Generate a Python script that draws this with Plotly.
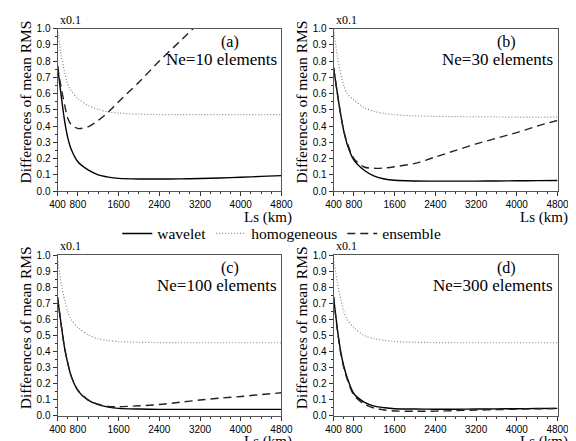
import plotly.graph_objects as go
from plotly.subplots import make_subplots

# Ls (km) sample positions, shared by all panels
ls = [400, 475, 540, 600, 665, 800, 1000, 1200, 1400, 1600, 2000, 2400, 2800, 3200, 3600, 4000, 4400, 4800]

# panel (a) Ne=10
wavelet_a = [0.77, 0.58, 0.43, 0.33, 0.26, 0.18, 0.13, 0.10, 0.086, 0.078, 0.074, 0.074, 0.075, 0.077, 0.080, 0.085, 0.090, 0.095]
homog_a = [1.0, 0.83, 0.73, 0.66, 0.62, 0.57, 0.527, 0.503, 0.487, 0.48, 0.473, 0.471, 0.47, 0.47, 0.47, 0.47, 0.47, 0.47]
ensemble_a = [0.77, 0.63, 0.53, 0.45, 0.41, 0.385, 0.395, 0.435, 0.487, 0.55, 0.67, 0.80, 0.92, 1.04, None, None, None, None]

# panel (b) Ne=30
wavelet_b = [0.76, 0.60, 0.47, 0.37, 0.29, 0.19, 0.128, 0.092, 0.074, 0.066, 0.062, 0.061, 0.061, 0.061, 0.062, 0.063, 0.064, 0.065]
homog_b = [1.0, 0.83, 0.72, 0.65, 0.60, 0.56, 0.515, 0.49, 0.477, 0.47, 0.463, 0.46, 0.458, 0.457, 0.456, 0.455, 0.455, 0.455]
ensemble_b = [0.76, 0.60, 0.47, 0.37, 0.30, 0.20, 0.148, 0.14, 0.142, 0.15, 0.17, 0.21, 0.25, 0.29, 0.325, 0.36, 0.40, 0.435]

# panel (c) Ne=100
wavelet_c = [0.74, 0.56, 0.42, 0.33, 0.25, 0.157, 0.097, 0.069, 0.054, 0.046, 0.042, 0.04, 0.04, 0.04, 0.04, 0.04, 0.04, 0.04]
homog_c = [0.98, 0.82, 0.72, 0.65, 0.60, 0.55, 0.504, 0.48, 0.468, 0.462, 0.458, 0.456, 0.455, 0.455, 0.455, 0.455, 0.455, 0.455]
ensemble_c = [0.74, 0.56, 0.42, 0.33, 0.25, 0.16, 0.10, 0.072, 0.058, 0.056, 0.062, 0.07, 0.084, 0.098, 0.11, 0.12, 0.132, 0.143]

# panel (d) Ne=300
wavelet_d = [0.74, 0.54, 0.40, 0.31, 0.24, 0.137, 0.085, 0.06, 0.05, 0.044, 0.042, 0.041, 0.041, 0.042, 0.043, 0.044, 0.045, 0.046]
homog_d = [0.98, 0.83, 0.73, 0.65, 0.60, 0.55, 0.50, 0.48, 0.47, 0.462, 0.458, 0.456, 0.455, 0.455, 0.455, 0.455, 0.455, 0.455]
ensemble_d = [0.74, 0.53, 0.39, 0.30, 0.23, 0.127, 0.073, 0.048, 0.036, 0.03, 0.028, 0.029, 0.032, 0.035, 0.038, 0.041, 0.043, 0.045]

panel_tags = ['(a)', '(b)', '(c)', '(d)']
panel_ne = ['Ne=10 elements', 'Ne=30 elements', 'Ne=100 elements', 'Ne=300 elements']
x_ticks = [400, 800, 1600, 2400, 3200, 4000, 4800]

SERIF = 'Liberation Serif'
SANS = 'Liberation Sans'

panels = [
    (1, 1, wavelet_a, homog_a, ensemble_a),
    (1, 2, wavelet_b, homog_b, ensemble_b),
    (2, 1, wavelet_c, homog_c, ensemble_c),
    (2, 2, wavelet_d, homog_d, ensemble_d),
]

fig = make_subplots(rows=2, cols=2)

for i, (row, col, wav, hom, ens) in enumerate(panels):
    first = i == 0
    fig.add_trace(go.Scatter(x=ls, y=wav, name='wavelet', mode='lines',
                             line=dict(color='black', width=1.4, shape='spline', smoothing=0.8),
                             showlegend=first), row=row, col=col)
    fig.add_trace(go.Scatter(x=ls, y=hom, name='homogeneous', mode='lines',
                             line=dict(color='#888888', width=1.2, dash='1px,2px',
                                       shape='spline', smoothing=0.8),
                             showlegend=first), row=row, col=col)
    fig.add_trace(go.Scatter(x=ls, y=ens, name='ensemble', mode='lines',
                             line=dict(color='#222222', width=1.4, dash='8px,5px',
                                       shape='spline', smoothing=0.8),
                             showlegend=first), row=row, col=col)

W, H = 576, 441
x_dom = [[43 / W, 275 / W], [329 / W, 561 / W]]
y_dom = [[1 - 182 / H, 1 - 15 / H], [1 - 413 / H, 1 - 248 / H]]

for i, (row, col, _, _, _) in enumerate(panels):
    n = '' if i == 0 else str(i + 1)
    fig.layout['xaxis' + n].update(
        domain=x_dom[col - 1], range=[400, 4800],
        tickmode='array', tickvals=x_ticks, ticktext=[str(v) for v in x_ticks],
        ticks='outside', ticklen=4, tickcolor='#333333',
        showline=True, linecolor='#555555', linewidth=1, mirror=True,
        showgrid=False, zeroline=False,
        tickfont=dict(family=SANS, size=10, color='black'),
        minor=dict(tickmode='linear', tick0=400, dtick=200, ticks='outside',
                   ticklen=2, tickcolor='#333333'))
    fig.layout['yaxis' + n].update(
        domain=y_dom[row - 1], range=[0, 1.0],
        tick0=0, dtick=0.1, tickformat='.1f',
        ticks='outside', ticklen=4, tickcolor='#333333',
        showline=True, linecolor='#555555', linewidth=1, mirror=True,
        showgrid=False, zeroline=False,
        tickfont=dict(family=SANS, size=10, color='black'),
        minor=dict(tick0=0, dtick=0.05, ticks='outside', ticklen=2, tickcolor='#333333'))

    xd = ('x' + n) + ' domain'
    yd = ('y' + n) + ' domain'
    fig.add_annotation(text='x0.1', xref=xd, yref=yd, x=0, y=1, xanchor='left', yanchor='bottom',
                       showarrow=False, font=dict(family=SERIF, size=12, color='black'))
    fig.add_annotation(text=panel_tags[i], xref=xd, yref=yd, x=0.77, y=0.92, xanchor='center',
                       yanchor='middle', showarrow=False, font=dict(family=SERIF, size=16, color='black'))
    fig.add_annotation(text=panel_ne[i], xref=xd, yref=yd, x=0.987, y=0.81, xanchor='right',
                       yanchor='middle', showarrow=False, font=dict(family=SERIF, size=17, color='black'))
    fig.add_annotation(text='Ls (km)', xref=xd, yref=yd, x=1.056, y=0, yshift=-26, xanchor='right',
                       yanchor='middle', showarrow=False, font=dict(family=SERIF, size=15, color='black'))
    fig.add_annotation(text='Differences of mean RMS', xref=xd, yref=yd, x=-0.142, y=0.55,
                       textangle=-90, xanchor='center', yanchor='middle', showarrow=False,
                       font=dict(family=SERIF, size=15.5, color='black'))

fig.update_layout(
    width=W, height=H,
    margin=dict(l=0, r=0, t=0, b=0),
    paper_bgcolor='white', plot_bgcolor='white',
    legend=dict(orientation='h', x=0.478, y=1 - 226 / H, xanchor='center', yanchor='middle',
                font=dict(family=SERIF, size=15.5, color='black'), bgcolor='rgba(0,0,0,0)'),
)

fig.write_html("out.html")
